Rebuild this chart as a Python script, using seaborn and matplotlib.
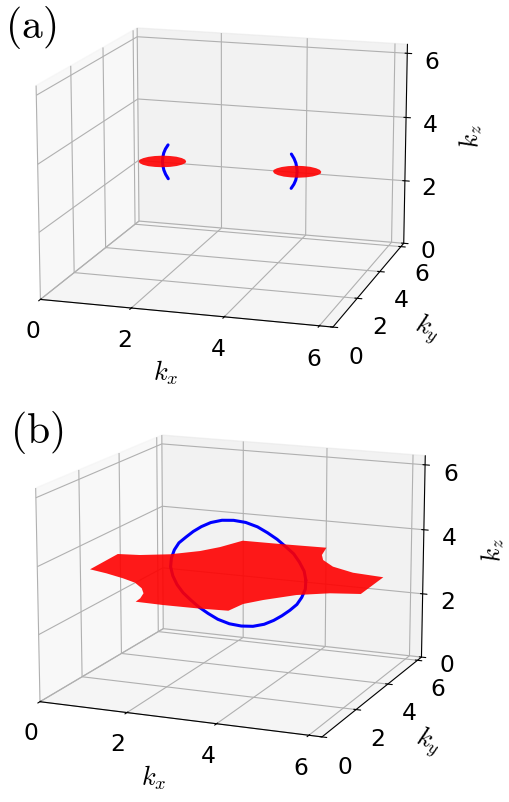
import matplotlib
matplotlib.use("Agg")
import matplotlib.pyplot as plt
import seaborn as sns
from mpl_toolkits.mplot3d.art3d import Poly3DCollection

sns.set_style("white")
plt.rcParams["font.family"] = ["DejaVu Sans"]
plt.rcParams["mathtext.fontset"] = "cm"
plt.rcParams["text.color"] = "black"
plt.rcParams["axes.labelcolor"] = "black"
plt.rcParams["xtick.color"] = "black"
plt.rcParams["ytick.color"] = "black"
plt.rcParams["axes.edgecolor"] = "black"
plt.rcParams["grid.color"] = "#b0b0b0"
plt.rcParams["grid.linewidth"] = 0.8

# -----------------------------------------------------
# DATA
# -----------------------------------------------------
TICKS = [0, 2, 4, 6]
PLANE_Z = 3.14
K_MAX = 6.28
RED, BLUE = sns.color_palette(["#ff0000", "#0000ff"])

# panel (a)
pocket_left_kx = [2.11,2.08,2.01,1.90,1.75,1.59,1.43,1.28,1.17,1.10,1.07,1.10,1.17,1.28,1.43,1.59,1.75,1.90,2.01,2.08]
pocket_right_kx = [5.13,5.10,5.03,4.92,4.77,4.61,4.45,4.30,4.19,4.12,4.09,4.12,4.19,4.30,4.45,4.61,4.77,4.92,5.03,5.10]
pocket_ky = [3.29,3.44,3.58,3.69,3.77,3.79,3.77,3.69,3.58,3.44,3.29,3.14,3.00,2.89,2.81,2.79,2.81,2.89,3.00,3.14]
arc_left_kx = [1.72,1.66,1.62,1.60,1.59,1.60,1.62,1.66,1.72]
arc_right_kx = [4.48,4.54,4.58,4.60,4.61,4.60,4.58,4.54,4.48]
arc_ky = [3.29] * 9
arc_kz = [3.66,3.53,3.40,3.27,3.14,3.01,2.88,2.75,2.62]

# panel (b)
sheet_kx = [-0.01,-0.06,0.43,1.02,1.51,1.77,2.00,2.90,3.99,4.14,4.33,4.74,5.33,6.06,6.10,
            5.49,4.90,4.42,4.16,4.09,3.42,2.69,2.06,2.03,1.92,1.71,1.38,0.98,0.47]
sheet_ky = [2.49,4.00,4.10,4.42,4.96,5.48,6.25,6.27,6.33,5.64,5.21,4.72,4.37,4.24,2.71,
            2.52,2.12,1.48,1.02,0.41,0.34,0.32,0.35,0.64,1.04,1.41,1.79,2.04,2.30]
ring_kx = [4.58,4.54,4.43,4.30,4.11,3.92,3.70,3.47,3.20,2.92,2.65,2.39,2.17,1.98,1.81,1.64,1.53,1.46,1.44,
           1.49,1.59,1.73,1.91,2.10,2.32,2.55,2.82,3.10,3.37,3.63,3.85,4.04,4.22,4.38,4.49,4.57,4.58]
ring_ky = [3.5] * 37
ring_kz = [3.09,3.36,3.62,3.85,4.05,4.24,4.41,4.56,4.66,4.69,4.66,4.56,4.41,4.24,4.05,3.85,3.62,3.36,3.09,
           2.82,2.56,2.33,2.13,1.94,1.77,1.62,1.52,1.49,1.52,1.62,1.77,1.94,2.13,2.33,2.56,2.82,3.09]


# -----------------------------------------------------
# HELPERS
# -----------------------------------------------------
def setup(rect, elev, azim, tag, tag_xy, ypad):
    ax = fig.add_axes(rect, projection="3d")
    ax.patch.set_alpha(0)
    ax.view_init(elev=elev, azim=azim)
    ax.computed_zorder = False
    ax.set_box_aspect((4, 4, 2.9))
    ax.set_xlim(0, K_MAX)
    ax.set_ylim(0, K_MAX)
    ax.set_zlim(0, K_MAX)
    ax.set_xticks(TICKS)
    ax.set_yticks(TICKS)
    ax.set_zticks(TICKS)
    ax.tick_params(labelsize=16.8)
    ax.tick_params(axis="x", pad=4)
    ax.tick_params(axis="y", pad=5)
    ax.tick_params(axis="z", pad=4)
    ax.xaxis.set_rotate_label(False)
    ax.yaxis.set_rotate_label(False)
    ax.zaxis.set_rotate_label(False)
    ax.set_xlabel("$k_x$", fontsize=19, labelpad=12)
    ax.set_ylabel("$k_y$", fontsize=19, labelpad=ypad, rotation=-20)
    ax.set_zlabel("$k_z$", fontsize=19, labelpad=12, rotation=95)
    fig.text(tag_xy[0], tag_xy[1], tag, fontsize=30, ha="left", va="top")
    return ax


def add_sheet(ax, kx, ky):
    verts = [[(x, y, PLANE_Z) for x, y in zip(kx, ky)]]
    ax.add_collection3d(Poly3DCollection(verts, facecolor=RED, edgecolor="none", alpha=0.9, zorder=2))


# -----------------------------------------------------
# FIGURE
# -----------------------------------------------------
fig = plt.figure(figsize=(5.1, 8.02), dpi=100)
ax_a = setup([-0.141, 0.5, 1.156, 0.565], 14.5, -73, r"$\mathrm{(a)}$", (0.01, 0.995), 13)
ax_b = setup([-0.128, -0.0095, 1.16, 0.567], 14, -67.5, r"$\mathrm{(b)}$", (0.02, 0.49), 12)

ax_a.plot(arc_left_kx, arc_ky, arc_kz, color=BLUE, lw=2.2, zorder=1)
ax_a.plot(arc_right_kx, arc_ky, arc_kz, color=BLUE, lw=2.2, zorder=1)
add_sheet(ax_a, pocket_left_kx, pocket_ky)
add_sheet(ax_a, pocket_right_kx, pocket_ky)

ax_b.plot(ring_kx, ring_ky, ring_kz, color=BLUE, lw=2.2, zorder=1)
add_sheet(ax_b, sheet_kx, sheet_ky)

fig.savefig("out.png", dpi=100)
